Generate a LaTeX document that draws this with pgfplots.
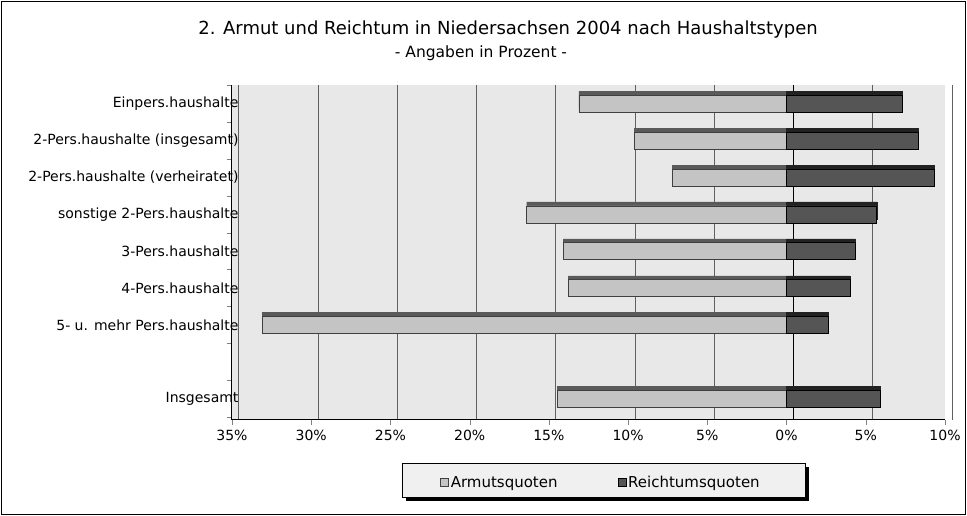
\documentclass[border=0pt]{standalone}
\usepackage{pgfplots}
\pgfplotsset{compat=1.18}
\usepackage{pgfplotstable}
\usepackage{fontspec}
\setmainfont{DejaVu Sans}

\definecolor{wall}{HTML}{E8E8E8}
\definecolor{wallside}{HTML}{6E6E6E}
\definecolor{armut}{HTML}{C4C4C4}
\definecolor{armuttop}{HTML}{5A5A5A}
\definecolor{reich}{HTML}{555555}
\definecolor{reichtop}{HTML}{222222}

% pos: Einpers oben (8) ... Insgesamt unten (0), 1 bleibt leer
\pgfplotstableread{
pos armut reich
8 -13.1  7.3
7 -9.6   8.3
6 -7.2   9.3
5 -16.4  5.7
4 -14.1  4.35
3 -13.75 4.0
2 -33.1  2.65
0 -14.45 5.9
}\quoten

\begin{document}
\begin{tikzpicture}[x=1pt,y=1pt]
\useasboundingbox (0,0) rectangle (967,516);
\draw[line width=1.2pt] (1.5,1.5) rectangle (965.5,514.5);
\node[font=\fontsize{18}{21}\selectfont] at (508,486) {2. Armut und Reichtum in Niedersachsen 2004 nach Haushaltstypen};
\node[font=\fontsize{15.5}{18}\selectfont] at (481,463) {- Angaben in Prozent -};
% Legendenkasten mit Schatten
\fill[black] (406,15) rectangle (809,49);
\draw[line width=0.8pt, fill=gray!12] (402,19) rectangle (805,53);
% linke Seitenwand
\fill[wallside] (232,96) rectangle (242,431);

\begin{axis}[
    at={(232pt,96pt)}, anchor=south west,
    scale only axis, width=713pt, height=335pt,
    xmin=-35, xmax=10, ymin=-0.57, ymax=8.51,
    clip=false,
    axis background/.style={fill=wall},
    axis x line*=bottom, axis y line*=left,
    axis line style={line width=1pt},
    xtick={-35,-30,...,10},
    xticklabels={35\%,30\%,25\%,20\%,15\%,10\%,5\%,0\%,5\%,10\%},
    xticklabel style={font=\fontsize{14}{16}\selectfont, yshift=-2pt},
    xmajorgrids, grid style={draw=gray!75!black, line width=1pt, xshift=7pt},
    extra x ticks={0}, extra x tick labels={},
    extra x tick style={grid style={draw=black, line width=1.2pt}},
    tick align=outside, major tick length=5pt,
    ytick={-0.5,0.5,...,8.5},
    yticklabels={},
    ytick style={line width=0.8pt},
    extra y ticks={0,2,3,4,5,6,7,8},
    extra y tick labels={Insgesamt, 5- u. mehr Pers.haushalte, 4-Pers.haushalte,
        3-Pers.haushalte, sonstige 2-Pers.haushalte, 2-Pers.haushalte (verheiratet),
        2-Pers.haushalte (insgesamt), Einpers.haushalte},
    extra y tick style={tick style={draw=none}, yticklabel style={xshift=15pt, font=\fontsize{14}{16}\selectfont}},
    xbar, bar width=17pt,
    legend columns=2,
    legend style={at={(0.2917,-0.186)}, anchor=west, draw=none, fill=none,
        font=\fontsize{15}{17}\selectfont, inner sep=0pt,
        /tikz/every even column/.append style={column sep=58pt}},
    legend image code/.code={\draw[#1, line width=0.6pt] (0pt,-4pt) rectangle (8pt,4pt);},
]
% Oberseiten der Balken
\addplot[forget plot, fill=armuttop, draw=armuttop, bar shift=4pt] table[x=armut, y=pos] {\quoten};
\addplot[forget plot, fill=reichtop, draw=reichtop, bar shift=4pt] table[x=reich, y=pos] {\quoten};
% Vorderseiten
\addplot[fill=armut, draw=black!75, line width=0.8pt, bar shift=0pt] table[x=armut, y=pos] {\quoten};
\addplot[fill=reich, draw=black, line width=0.8pt, bar shift=0pt] table[x=reich, y=pos] {\quoten};
\legend{Armutsquoten, Reichtumsquoten}
\end{axis}
\end{tikzpicture}
\end{document}
